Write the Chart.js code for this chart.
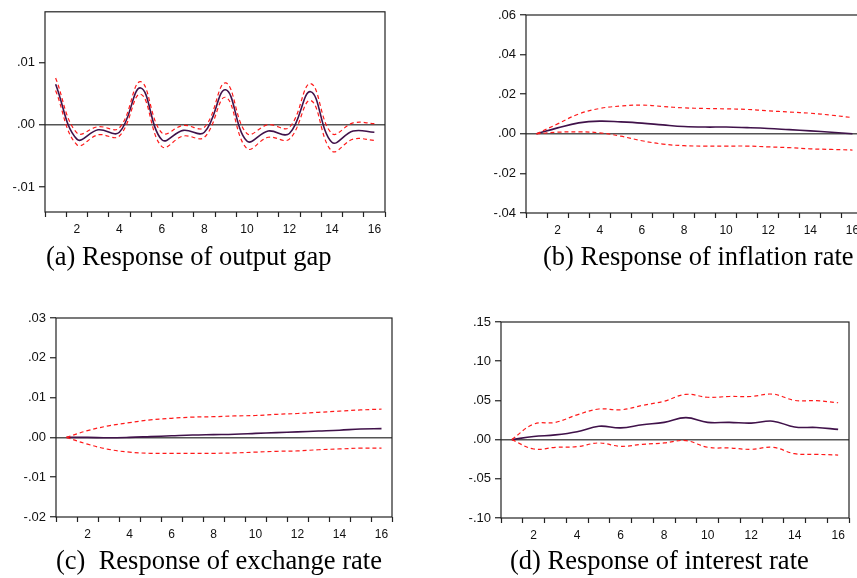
<!DOCTYPE html>
<html>
<head>
<meta charset="utf-8">
<script src="https://cdn.jsdelivr.net/npm/chart.js@4.4.1/dist/chart.umd.min.js"></script>
<style>
  html, body { margin: 0; padding: 0; background: #fff; }
  body { width: 857px; height: 578px; position: relative; overflow: hidden; }
  canvas { position: absolute; }
  .cap {
    position: absolute;
    font-family: "Liberation Serif", "Times New Roman", serif;
    font-size: 26.5px;
    line-height: 26px;
    white-space: pre;
    color: #000;
  }
</style>
</head>
<body>
<canvas id="chartA"></canvas>
<canvas id="chartB"></canvas>
<canvas id="chartC"></canvas>
<canvas id="chartD"></canvas>
<div class="cap" style="left:46px; top:243px;">(a) Response of output gap</div>
<div class="cap" style="left:543px; top:243px;">(b) Response of inflation rate</div>
<div class="cap" style="left:56px; top:547px;">(c)  Response of exchange rate</div>
<div class="cap" style="left:510px; top:547px;">(d) Response of interest rate</div>
<script>
// periods on the x axis
const periods = ["1", "2", "3", "4", "5", "6", "7", "8", "9", "10", "11", "12", "13", "14", "15", "16"];

// (a) output gap
const gapResp  = [0.0065, -0.0023, -0.0008, -0.0012, 0.0059, -0.0024, -0.0009, -0.0012, 0.0056, -0.0026, -0.0010, -0.0014, 0.0053, -0.0028, -0.0010, -0.0012];
const gapUpper = [0.0075, -0.0013, -0.0003, -0.0005, 0.0069, -0.0013, -0.0001, -0.0004, 0.0067, -0.0014, 0.0000, -0.0004, 0.0066, -0.0014, 0.0003, 0.0002];
const gapLower = [0.0055, -0.0032, -0.0016, -0.0018, 0.0049, -0.0035, -0.0018, -0.0020, 0.0044, -0.0038, -0.0020, -0.0023, 0.0039, -0.0042, -0.0023, -0.0025];
const gapTicks = [-0.01, 0, 0.01];

// (b) inflation rate
const inflResp  = [0, 0.0030, 0.0055, 0.0064, 0.0060, 0.0054, 0.0045, 0.0037, 0.0034, 0.0034, 0.0031, 0.0027, 0.0021, 0.0015, 0.0008, 0.0000];
const inflUpper = [0, 0.0050, 0.0100, 0.0128, 0.0140, 0.0145, 0.0138, 0.0131, 0.0128, 0.0126, 0.0123, 0.0116, 0.0110, 0.0104, 0.0094, 0.0082];
const inflLower = [0, 0.0008, 0.0010, 0.0005, -0.0012, -0.0035, -0.0052, -0.0060, -0.0062, -0.0062, -0.0062, -0.0066, -0.0070, -0.0076, -0.0079, -0.0082];
const inflTicks = [-0.04, -0.02, 0, 0.02, 0.04, 0.06];

// (c) exchange rate
const exchResp  = [0, 0.0000, -0.0001, 0.0000, 0.0002, 0.0004, 0.0006, 0.0007, 0.0008, 0.0010, 0.0012, 0.0014, 0.0016, 0.0018, 0.0021, 0.0022];
const exchUpper = [0, 0.0017, 0.0029, 0.0037, 0.0044, 0.0048, 0.0051, 0.0052, 0.0054, 0.0055, 0.0058, 0.0060, 0.0063, 0.0066, 0.0069, 0.0071];
const exchLower = [0, -0.0017, -0.0030, -0.0037, -0.0040, -0.0040, -0.0040, -0.0040, -0.0039, -0.0037, -0.0035, -0.0034, -0.0031, -0.0029, -0.0027, -0.0027];
const exchTicks = [-0.02, -0.01, 0, 0.01, 0.02, 0.03];

// (d) interest rate
const rateResp  = [0, 0.004, 0.006, 0.010, 0.017, 0.015, 0.019, 0.022, 0.028, 0.022, 0.022, 0.021, 0.0235, 0.016, 0.0155, 0.013];
const rateUpper = [0, 0.0197, 0.022, 0.0316, 0.039, 0.038, 0.0436, 0.049, 0.0577, 0.054, 0.055, 0.055, 0.058, 0.050, 0.0496, 0.047];
const rateLower = [0, -0.012, -0.0098, -0.009, -0.0043, -0.0085, -0.006, -0.0043, -0.0013, -0.0098, -0.0107, -0.0124, -0.0098, -0.018, -0.0188, -0.0197];
const rateTicks = [-0.10, -0.05, 0, 0.05, 0.10, 0.15];

// ".01" / "-.01" style labels
function fmt(v) {
    let s = Math.abs(v).toFixed(2).replace(/^0/, "");
    return (v < -1e-9 ? "-" : "") + s;
}

// frame round the plot area
const boxPlugin = {
    id: "box",
    afterDraw(chart) {
        const a = chart.chartArea;
        const ctx = chart.ctx;
        ctx.save();
        ctx.strokeStyle = "#222";
        ctx.lineWidth = 1.2;
        ctx.strokeRect(a.left, a.top, a.right - a.left, a.bottom - a.top);
        ctx.restore();
    }
};

function makePanel(id, pos, resp, upper, lower, ticks, yMin, yMax) {
    let canvas = document.getElementById(id);
    canvas.width = pos.w;
    canvas.height = pos.h;
    canvas.style.left = pos.x + "px";
    canvas.style.top = pos.y + "px";
    canvas.style.width = pos.w + "px";
    canvas.style.height = pos.h + "px";

    const band = (data) => ({
        data: data,
        borderColor: "#ff1a1a",
        borderWidth: 1.2,
        borderDash: [4, 3],
        pointRadius: 0,
        tension: 0.4,
        fill: false
    });

    new Chart(canvas.getContext("2d"), {
        type: "line",
        data: {
            labels: periods,
            datasets: [
                band(upper),
                band(lower),
                {
                    data: resp,
                    borderColor: "#40124a",
                    borderWidth: 1.6,
                    pointRadius: 0,
                    tension: 0.4,
                    fill: false
                }
            ]
        },
        options: {
            responsive: false,
            animation: false,
            devicePixelRatio: 1,
            layout: { padding: { top: pos.padTop, right: pos.padRight, left: 0, bottom: 0 } },
            plugins: { legend: { display: false }, tooltip: { enabled: false } },
            scales: {
                x: {
                    type: "category",
                    offset: true,
                    afterFit: (scale) => { scale.height = 30; },
                    border: { display: false },
                    grid: {
                        offset: true,
                        drawOnChartArea: false,
                        tickLength: 5,
                        tickColor: "#222",
                        tickWidth: 1.2
                    },
                    ticks: {
                        autoSkip: false,
                        maxRotation: 0,
                        padding: 5,
                        color: "#111",
                        font: { family: "'Liberation Sans', Arial, sans-serif", size: 12 },
                        callback: (val, i) => (i % 2 === 1 ? periods[i] : "")
                    }
                },
                y: {
                    min: yMin,
                    max: yMax,
                    afterFit: (scale) => { scale.width = pos.yw; },
                    afterBuildTicks: (scale) => { scale.ticks = ticks.map(v => ({ value: v })); },
                    border: { display: false },
                    grid: {
                        color: (c) => (c.tick && Math.abs(c.tick.value) < 1e-9 ? "#555" : "rgba(0,0,0,0)"),
                        lineWidth: 1.5,
                        tickColor: "#222",
                        tickLength: 6,
                        tickWidth: 1.2
                    },
                    ticks: {
                        padding: 4,
                        color: "#111",
                        font: { family: "'Liberation Sans', Arial, sans-serif", size: 13 },
                        callback: (v) => fmt(v)
                    }
                }
            }
        },
        plugins: [boxPlugin]
    });
}

makePanel("chartA", { x: 0, y: 0, w: 392, h: 242, yw: 45, padTop: 10, padRight: 7 },
    gapResp, gapUpper, gapLower, gapTicks, -0.01397, 0.0181);
makePanel("chartB", { x: 480, y: 0, w: 390, h: 243, yw: 46, padTop: 15, padRight: 7 },
    inflResp, inflUpper, inflLower, inflTicks, -0.04, 0.06);
makePanel("chartC", { x: 10, y: 300, w: 390, h: 247, yw: 46, padTop: 18, padRight: 8 },
    exchResp, exchUpper, exchLower, exchTicks, -0.02, 0.03);
makePanel("chartD", { x: 455, y: 304, w: 401, h: 244, yw: 46, padTop: 18, padRight: 7 },
    rateResp, rateUpper, rateLower, rateTicks, -0.10, 0.15);
</script>
</body>
</html>
